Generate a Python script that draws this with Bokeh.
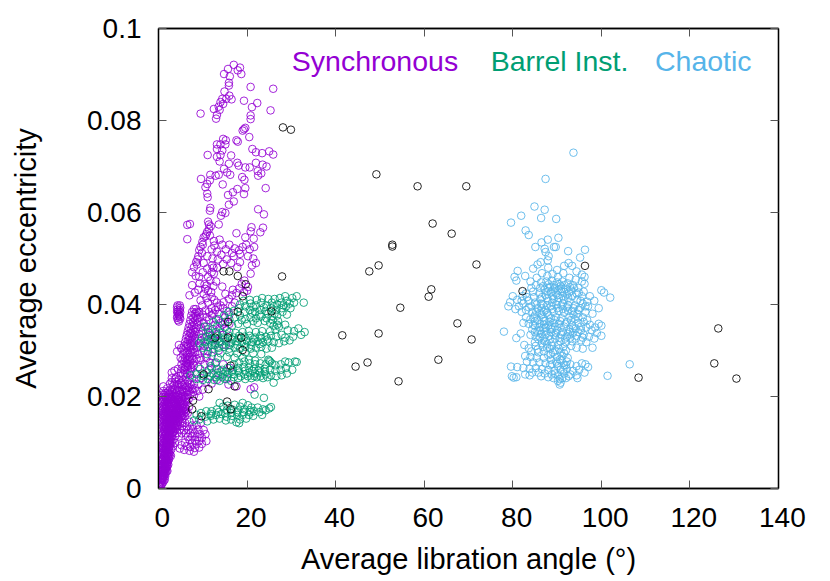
from bokeh.plotting import figure
from bokeh.models import LinearAxis, Range1d, FixedTicker, Label
from bokeh.embed import file_html
from bokeh.resources import INLINE

x_ticks = [0, 20, 40, 60, 80, 100, 120, 140]
y_ticks = [0, 0.02, 0.04, 0.06, 0.08, 0.1]
y_tick_labels = {0: "0", 0.02: "0.02", 0.04: "0.04", 0.06: "0.06", 0.08: "0.08", 0.1: "0.1"}
x_title = "Average libration angle (°)"
y_title = "Average eccentricity"
legend_names = ["Synchronous", "Barrel Inst.", "Chaotic"]

sync_points = [
(17.0,.0921),(15.7,.0912),(18.4,.0915),(17.9,.0909),(18.7,.0901),(14.8,.0901),(16.1,.0896),(15.9,.0882),(15.9,.0876),(20.8,.0873),(25.9,.0869),(14.9,.0863),(16,.0854),(16.5,.0846),(15.3,.0847),(14.4,.0847),(14,.0840),(14.6,.0836),(13.6,.0830),(13.8,.0823),(12.5,.0825),(19.3,.0843),(22.3,.0838),(21.1,.0829),(25.3,.0822),(9.5,.0815),(13.2,.0812),(13,.0804),(20.8,.0811),(20.8,.0803),(19.6,.0784),(19,.0778),(19.3,.0781),(17.6,.0757),(17.9,.0754),(20.5,.0764),(14.6,.0760),(15.2,.0757),(14,.0748),(15.1,.0748),(13.2,.0748),(13.2,.0738),(14.4,.0735),(21.2,.0738),(22,.0731),(23.4,.0729),(25,.0733),(25.9,.0726),(11.1,.0725),(14,.0725),(16.4,.0724),(13.2,.0721),(13.8,.0711),(15.9,.0706),(17.8,.0708),(18.1,.0702),(19.6,.0698),(20.6,.0698),(22,.0708),(23.5,.0704),(24.4,.0700),(14.8,.0695),(22.4,.0690),(23.2,.0685),(22.5,.0680),(15.5,.0687),(16.2,.0682),(13.6,.0682),(12.9,.0680),(11.7,.0682),(9.6,.0673),(18.9,.0677),(19.4,.0671),(11.6,.0670),(11,.0662),(10.6,.0655),(14.5,.0661),(19.6,.0653),(24.2,.0653),(17.8,.0651),(16.8,.0644),(19.3,.0640),(15.7,.0638),(11,.0641),(11.1,.0633),(17,.0624),(15.9,.0617),(11.7,.0610),(11.6,.0604),(22.5,.0607),(23.8,.0596),(14.4,.0601),(15.1,.0599),(14.1,.0593),(6.5,.0573),(7.1,.0575),(11.4,.0574),(13.6,.0574),(11.4,.0564),(21,.0568),(23.6,.0567),(20.8,.0559),(23,.0557),(17.6,.0555),(10.8,.0553),(6.5,.0542),(10.2,.0546),(19.6,.0546),(21.5,.0543),(13.8,.0541),(9.9,.0536),(12.5,.0538),(14.4,.0530),(16,.0530),(9.5,.0525),
(11.2,.0580),(11.8,.0570),(11.0,.0558),(11.6,.0550),(10.6,.0548),(10.0,.0530),(9.2,.0518),(9.8,.0512),(9.0,.0505),(8.8,.0498),(8.5,.0492),(12.6,.0528),(12.0,.0520),(13.2,.0515),(15.2,.0520),(16.6,.0512),(17.2,.0522),(18.2,.0518),(19.0,.0525),(19.8,.0530),(20.6,.0520),(21.6,.0525),(18.4,.0510),(17.0,.0505),(14.2,.0508),(12.2,.0500),(11.0,.0505),(13.4,.0498),(15.4,.0498),(20.2,.0505),(21.4,.0500),(8,.0481),(7.6,.047),(8.7,.0487),(10.2,.049),(9.3,.0446),(7,.0420),(12.1,.0485),(12.5,.0467),(11.7,.0452),(10.9,.0441),(10.6,.0434),(10.2,.0423),(9.5,.0409),(9.9,.0398),(10.6,.0387),(11.9,.0427),(14.4,.0439),(15.1,.0423),(15.9,.0412),(14.7,.0405),(14,.0398),(16.6,.042),(17.8,.0481),(21.1,.0485),(20.8,.0467),(19.3,.0427),(20,.043),(18.4,.0492),(16.4,.0490),(14.6,.0488),(13.2,.0480),(22.0,.0490),(9.2,.0460),(10.0,.0470),(11.0,.0478),(8.4,.0462),(7.6,.0442),(9.0,.0432),(8.2,.0426),(13.0,.0450),(12.4,.0440),(18.8,.0445),(19.4,.0452),(20.2,.0438),(18.2,.0435),(17.6,.0425),(16.8,.0432),
(4.3,.0398),(4.8,.0398),(4.2,.0394),(4.9,.0393),(4.3,.0389),(4.8,.0388),(4.2,.0384),(4.9,.0383),(4.4,.0380),(4.7,.0378),(4.3,.0375),(4.8,.0373),(4.2,.0371),(4.9,.0369),(4.4,.0366),(4.6,.0363),(4.5,.0386),(4.6,.0376),(8.0,.0390),(7.6,.0384),(8.2,.0380),(7.4,.0376),(7.9,.0372),(7.2,.0366),(7.8,.0362),(7.0,.0358),(7.6,.0354),(6.8,.0350),(7.3,.0346),(6.6,.0342),(7.1,.0338),(6.4,.0334),(6.9,.0330),(6.2,.0326),(6.7,.0322),(6.0,.0318),(6.5,.0314),(5.8,.0310),(6.3,.0306),(5.4,.0302),(6.0,.0298),(5.1,.0305),(4.6,.0312),(4.2,.0298),(5.6,.0292),(6.4,.0286),(5.0,.0284),(7.0,.0280),(5.8,.0276),(6.8,.0270),(5.2,.0270),(6.0,.0264),(7.4,.0262),(4.4,.0260),(3.6,.0256),(5.0,.0252),(6.4,.0250),(3.0,.0252),
(9.4,.0372),(9.0,.0362),(10.2,.0360),(9.6,.0350),(10.8,.0352),(11.4,.0366),(12.0,.0376),(12.8,.0388),(13.6,.0380),(14.6,.0392),(15.4,.0386),(13.0,.0368),(14.0,.0360),(15.0,.0372),(8.6,.0350),(8.2,.0340),(9.2,.0336),(10.0,.0342),(8.8,.0326),(8.0,.0322),(9.6,.0322),(7.8,.0310),(8.6,.0306),(9.4,.0310),(7.4,.0300),(8.2,.0296),(9.0,.0292),(10.2,.0300),(7.6,.0288),(8.6,.0282),(9.6,.0280),(7.2,.0276),(8.0,.0268),(9.0,.0264),(10.4,.0270),(11.6,.0274),(12.8,.0272),(14.6,.0270),(16.2,.0262),(17.6,.0222),(11.4,.0258),(13.4,.0252),(15.4,.0238),(15.8,.0226),(13.2,.0236),(12.0,.0228),(10.8,.0232),(9.6,.0240),(8.4,.0250),(7.6,.0240),(9.0,.0226),(8.0,.0228),(6.8,.0235),(10.0,.0215),(8.8,.0212),(7.6,.0216),(6.4,.0222),(9.2,.0200),(8.0,.0202),(20.8,.0216),(21.6,.0220),
(5.0,.0245),(4.0,.0242),(3.0,.0240),(3.8,.0232),(5.0,.0230),(6.0,.0228),(2.6,.0228),(1.1,.0222),(1.1,.0212),(2.0,.0218),(3.2,.0222),(4.4,.0220),(5.4,.0216),(6.4,.0210),(7.2,.0204),(2.0,.0208),(3.0,.0210),(4.0,.0208),(5.0,.0206),(6.0,.0200),(6.8,.0194),(0.8,.0204),(1.5,.0200),(2.4,.0202),(3.4,.0200),(4.4,.0198),(5.4,.0194),(6.4,.0188),(1.0,.0194),(1.9,.0192),(2.8,.0193),(3.8,.0190),(4.8,.0188),(5.8,.0184),(6.9,.0178),(0.7,.0186),(1.4,.0185),(2.3,.0184),(3.2,.0183),(4.2,.0180),(5.2,.0178),(6.2,.0173),(0.9,.0178),(1.8,.0176),(2.7,.0177),(3.6,.0174),(4.6,.0172),(5.6,.0168),(6.6,.0164),(0.8,.0169),(1.4,.0168),(2.2,.0168),(3.1,.0167),(4.0,.0165),(5.0,.0162),(6.0,.0158),(1.0,.0160),(1.8,.0160),(2.6,.0159),(3.5,.0157),(4.4,.0155),(5.4,.0152),(1.0,.0152),(1.5,.0150),(2.3,.0151),(3.0,.0150),(3.9,.0148),(4.9,.0145),(6.0,.0143),(7.0,.0145),(1.1,.0142),(1.9,.0142),(2.7,.0142),(3.5,.0140),(4.3,.0138),(5.4,.0136),(6.4,.0135),(7.6,.0137),(8.6,.0138),(9.6,.0143),(10.2,.0127),(1.0,.0134),(1.6,.0134),(2.4,.0133),(3.1,.0132),(3.9,.0130),(4.8,.0128),(5.8,.0127),(6.8,.0128),(7.8,.0129),(9.0,.0128),(1.2,.0126),(1.9,.0125),(2.7,.0125),(3.4,.0123),(4.2,.0121),(5.2,.0120),(6.2,.0120),(7.2,.0120),(8.2,.0120),(9.4,.0118),(10.6,.0118),(1.0,.0118),(1.6,.0117),(2.3,.0116),(3.0,.0115),(3.8,.0114),(4.6,.0113),(6.6,.0112),(7.6,.0113),(8.8,.0112),(9.8,.0110),
(1.3,.0110),(2.0,.0109),(2.7,.0108),(3.4,.0107),(7.0,.0105),(8.2,.0105),(9.2,.0104),(10.8,.0103),(0.9,.0104),(1.5,.0102),(2.3,.0101),(3.0,.0100),(3.7,.0099),(6.0,.0100),(7.6,.0098),(8.6,.0097),(9.8,.0097),(1.2,.0095),(1.9,.0094),(2.6,.0093),(3.3,.0092),(5.2,.0094),(6.4,.0092),(7.2,.0090),(8.2,.0088),(9.2,.0089),(0.9,.0088),(1.5,.0087),(2.2,.0086),(2.9,.0085),(4.8,.0087),(5.8,.0084),(7.0,.0082),(8.0,.0080),(1.1,.0081),(1.8,.0080),(2.5,.0079),(0.8,.0074),(1.4,.0073),(2.1,.0072),(2.8,.0071),(1.0,.0066),(1.7,.0065),(2.4,.0064),(0.7,.0060),(1.3,.0059),(2.0,.0058),(0.9,.0053),(1.6,.0052),(2.2,.0052),(0.6,.0047),(1.2,.0046),(1.8,.0045),(0.8,.0040),(1.4,.0039),(2.0,.0038),(0.5,.0034),(1.0,.0033),(1.6,.0032),(0.7,.0027),(1.2,.0026),(0.4,.0022),(0.9,.0020),(1.4,.0019),(0.5,.0015),(1.0,.0013),(0.2,.0010),(0.6,.0008),(0.1,.0006),(0.3,.0004),(0.5,.0003),
(1.2,.0203),(2.1,.0197),(3.1,.0196),(4.1,.0193),(5.1,.0191),(6.0,.0189),(1.6,.0189),(2.5,.0188),(3.5,.0186),(4.5,.0184),(5.5,.0181),(1.2,.0181),(2.1,.0180),(3.0,.0179),(4.0,.0177),(4.9,.0175),(5.9,.0171),(1.1,.0173),(1.6,.0172),(2.5,.0172),(3.4,.0170),(4.3,.0168),(5.3,.0165),(1.3,.0164),(2.0,.0164),(2.9,.0163),(3.8,.0161),(4.7,.0158),(1.2,.0156),(1.9,.0155),(2.7,.0155),(3.3,.0153),(4.2,.0151),(1.3,.0146),(2.2,.0146),(3.0,.0145),(3.9,.0143),(1.4,.0138),(2.0,.0138),(2.8,.0137),(3.6,.0135),(1.3,.0130),(2.1,.0129),(2.9,.0128),(1.5,.0122),(2.2,.0121),(3.0,.0120),(1.3,.0113),(2.0,.0113),(2.6,.0112),(1.6,.0106),(2.4,.0105),(1.2,.0099),(1.9,.0098),(2.7,.0097),(1.5,.0091),(2.3,.0090),(1.3,.0084),(2.0,.0083),(1.6,.0077),(2.3,.0076),(1.2,.0070),(2.0,.0069),(1.5,.0062),(2.2,.0061),(1.2,.0056),(1.9,.0055),(1.4,.0049),(2.0,.0048),(1.1,.0043),(1.7,.0042),(1.3,.0036),(0.8,.0030),(1.3,.0029),(1.0,.0023),
(3.8,.0238),(4.6,.0236),(5.6,.0236),(6.6,.0232),(7.2,.0226),(3.6,.0226),(4.6,.0226),(5.4,.0224),(8.2,.0218),(7.0,.0212),(5.9,.0209),(4.8,.0212),(3.7,.0215),(2.5,.0213),(6.2,.0268),(6.6,.0258),(7.0,.0250),(5.8,.0258),(5.4,.0262),(6.2,.0242),(7.2,.0254),(5.4,.0280),(6.2,.0274),(6.6,.0280),(6.0,.0284),(6.8,.0292),(7.2,.0296),(6.4,.0296),(7.0,.0306),(6.6,.0310),(7.2,.0316),(7.0,.0324),(7.6,.0330),(7.4,.0338),(7.8,.0344),(8.0,.0356),(8.3,.0366),(8.4,.0374),(8.6,.0384),
(10.4,.0310),(11.0,.0322),(11.6,.0334),(12.2,.0346),(12.8,.0356),(11.2,.0340),(10.6,.0330),(12.0,.0312),(12.6,.0324),(13.2,.0336),(13.8,.0348),(14.4,.0356),(15.0,.0362),(16.0,.0358),(13.8,.0320),(14.6,.0334),(15.4,.0344),(16.0,.0378),(16.6,.0396),(17.2,.0404),(9.4,.0284),(10.8,.0284),(12.0,.0288),(11.2,.0298),(13.6,.0300),(15.2,.0312),
(1.0,.0199),(1.7,.0195),(2.6,.0198),(3.6,.0195),(4.6,.0193),(5.6,.0190),(0.9,.0189),(1.7,.0182),(2.8,.0184),(3.8,.0182),(4.8,.0180),(6.0,.0177),(1.3,.0177),(2.3,.0174),(3.2,.0174),(4.2,.0173),(5.2,.0170),(6.2,.0167),(1.0,.0165),(1.7,.0167),(2.6,.0165),(3.6,.0163),(4.6,.0164),(5.6,.0160),(1.5,.0158),(2.3,.0158),(3.1,.0158),(4.0,.0156),(5.0,.0155),(1.2,.0149),(1.9,.0148),(2.6,.0148),(3.4,.0146),(4.4,.0145),(5.4,.0143),(1.5,.0141),(2.3,.0140),(3.2,.0139),(4.2,.0135),(1.7,.0131),(2.5,.0130),(3.4,.0128),(1.4,.0125),(2.4,.0123),(3.2,.0121),(1.7,.0119),(2.6,.0117),(1.5,.0115),(2.2,.0110),(2.9,.0112),(1.9,.0103),(2.7,.0103),(1.6,.0096),(2.3,.0096),(2.0,.0091),(1.6,.0085),(2.4,.0083),(1.4,.0078),(2.1,.0078),(1.6,.0070),(2.4,.0069),(1.8,.0061),(1.5,.0055),(2.1,.0056),(1.6,.0047),(1.2,.0040),(1.8,.0038),(0.9,.0038),(1.1,.0028),(0.7,.0021),
(5.2,.0226),(6.2,.0218),(4.2,.0226),(3.0,.0232),(7.0,.0220),(7.8,.0210),(6.6,.0204),(5.6,.0200),(4.6,.0202),(3.6,.0205),(2.6,.0206),(1.6,.0208),(5.2,.0198),(4.0,.0200),(6.2,.0196),(6.0,.0252),(5.6,.0248),(7.8,.0272),(7.2,.0268),(6.6,.0266),(6.4,.0272),(7.6,.0280),(7.0,.0286),(7.8,.0296),(8.0,.0304),(7.4,.0312),(8.0,.0316),(7.6,.0322),(8.2,.0328),(8.0,.0334),(8.4,.0346),(8.8,.0356),(8.8,.0370),(8.8,.0382),(8.4,.0390),(9.2,.0384),(10.0,.0378),(10.8,.0372),(11.4,.0384),(12.0,.0392),(12.4,.0380),(13.4,.0394),(13.2,.0404),(12.6,.0410),(12.0,.0416),(11.2,.0404),(10.8,.0414),(11.2,.0430),(10.4,.0444),(11.2,.0460),(12.0,.0470),(12.4,.0480),
(1.1,.0122),(1.8,.0121),(2.5,.0120),(1.2,.0108),(1.8,.0107),(2.5,.0107),(1.1,.0100),(1.7,.0099),(2.5,.0099),(1.0,.0092),(1.7,.0091),(2.5,.0091),(1.1,.0086),(1.8,.0086),(1.0,.0078),(1.9,.0075),(2.6,.0074),(1.2,.0072),(0.9,.0063),(1.4,.0068),(2.2,.0066),(1.1,.0062),(1.7,.0059),(1.0,.0050),(1.4,.0053),(1.9,.0050),(0.8,.0046),(1.0,.0041),(1.5,.0044),(0.7,.0036),(1.2,.0034),(1.5,.0036),(0.6,.0029),(1.0,.0028),(1.5,.0026),(0.6,.0023),(0.8,.0017),(1.2,.0017),(0.4,.0012),(0.8,.0010),
(3.0,.0214),(4.2,.0214),(5.4,.0211),(6.6,.0214),(2.2,.0205),(3.2,.0203),(4.3,.0203),(5.3,.0202),(1.3,.0192),(2.3,.0192),(3.3,.0191),(4.3,.0188),(5.2,.0185),(2.0,.0186),(3.0,.0187),(4.0,.0185),(5.0,.0183),(1.6,.0179),(2.5,.0178),(3.5,.0179),(4.5,.0176),(5.5,.0174),(2.0,.0170),(2.9,.0169),(3.9,.0169),(4.8,.0166),(5.8,.0163),(1.3,.0160),(2.2,.0161),(3.2,.0161),(4.2,.0159),(5.2,.0158),(1.7,.0152),(2.5,.0151),(3.6,.0150),(4.6,.0148),(1.7,.0144),(2.5,.0144),(3.3,.0142),(4.0,.0139),(1.2,.0137),(2.2,.0135),(3.0,.0134),(3.7,.0132),
]

barrel_points = [
(21.7,.0204),(23.8,.0197),(13.8,.0186),(25.4,.0177),(25.0,.0174),(19.0,.0186),(20.2,.0181),(18.4,.0178),(21.0,.0176),(22.4,.0176),(23.6,.0172),(24.2,.0170),(17.2,.0182),(15.6,.0180),(14.6,.0178),(19.4,.0172),(20.6,.0170),(21.6,.0168),(22.8,.0166),(18.0,.0170),(16.6,.0172),(15.4,.0170),(13.2,.0172),(12.0,.0168),(10.8,.0168),(9.6,.0164),(8.6,.0160),(8.0,.0148),(9.2,.0150),(10.6,.0156),(11.8,.0158),(13.0,.0160),(14.2,.0162),(15.4,.0156),(16.6,.0158),(17.8,.0160),(19.0,.0160),(20.4,.0160),(21.4,.0158),(11.0,.0146),(12.4,.0150),(13.8,.0152),(15.2,.0148),(16.4,.0150),(18.4,.0150),(19.8,.0152),(17.6,.0144),(18.2,.0142),
(7.2,.0246),(8.6,.0248),(9.8,.0250),(11.0,.0252),(12.2,.0250),(13.4,.0246),(14.6,.0248),(15.8,.0250),(17.0,.0248),(18.2,.0252),(19.4,.0248),(20.6,.0252),(21.8,.0250),(23.0,.0252),(24.2,.0248),(25.4,.0246),(26.6,.0244),(27.8,.0246),(29.0,.0250),(30.2,.0258),(8.6,.0238),(10.0,.0236),(11.2,.0238),(12.6,.0236),(13.8,.0234),(15.0,.0238),(16.4,.0234),(18.0,.0240),(19.6,.0238),(21.0,.0240),(22.2,.0242),(23.6,.0240),(26.0,.0230),(12.0,.0262),(13.2,.0260),(14.4,.0258),(15.6,.0262),(16.8,.0258),(18.0,.0262),(19.2,.0264),(20.4,.0262),(21.6,.0260),(22.8,.0262),(24.0,.0260),(25.2,.0258),(26.4,.0256),(27.6,.0258),(28.8,.0262),(17.0,.0270),(18.2,.0274),(19.4,.0276),(20.6,.0272),(21.8,.0270),(23.0,.0272),(24.2,.0270),(25.2,.0276),(25.6,.0272),(26.4,.0268),(27.6,.0270),(28.6,.0276),(29.4,.0274),(30.8,.0276),(31.2,.0275),(19.0,.0284),(20.4,.0280),(21.8,.0278),(24.8,.0280),(25.0,.0278),
(9.2,.0316),(10.4,.0318),(11.6,.0320),(12.8,.0316),(14.0,.0318),(15.2,.0320),(16.4,.0316),(17.6,.0320),(18.8,.0318),(20.0,.0320),(21.2,.0318),(22.4,.0320),(23.6,.0318),(24.8,.0320),(26.0,.0318),(27.2,.0316),(28.4,.0320),(29.6,.0322),(10.0,.0306),(11.2,.0308),(12.4,.0304),(13.6,.0306),(14.8,.0308),(16.0,.0304),(17.2,.0306),(18.4,.0304),(19.6,.0308),(20.8,.0304),(22.0,.0306),(23.2,.0308),(24.4,.0304),(25.6,.0306),(9.8,.0328),(11.0,.0330),(12.2,.0326),(13.4,.0332),(14.6,.0328),(15.8,.0332),(17.0,.0328),(18.2,.0332),(19.4,.0330),(20.6,.0332),(21.8,.0328),(23.0,.0332),(24.2,.0330),(25.4,.0332),(26.6,.0330),(27.8,.0334),(28.6,.0328),(30.4,.0330),(32.2,.0334),(33.0,.0340),(31.6,.0348),(30.6,.0342),(29.2,.0344),(26.4,.0346),(25.2,.0342),(23.4,.0342),(22.0,.0340),(20.4,.0342),(19.0,.0340),(17.4,.0338),(16.0,.0340),(14.4,.0338),(13.0,.0340),(11.6,.0338),(26.0,.0354),(27.2,.0352),(28.6,.0356),(25.8,.0366),(27.0,.0364),(23.2,.0292),(21.4,.0294),(19.6,.0296),(17.8,.0294),(16.0,.0296),(14.0,.0294),(12.2,.0296),(11.0,.0292),(13.4,.0284),(15.4,.0286),(17.2,.0284),
(12.4,.0362),(13.6,.0368),(14.8,.0376),(16.0,.0368),(17.2,.0372),(18.4,.0376),(19.6,.0368),(20.8,.0372),(22.0,.0370),(23.2,.0374),(24.4,.0370),(25.6,.0374),(26.8,.0376),(28.0,.0384),(29.0,.0378),(15.8,.0384),(17.0,.0386),(18.2,.0392),(19.4,.0384),(20.6,.0388),(21.8,.0384),(23.0,.0388),(24.2,.0386),(25.4,.0392),(26.6,.0388),(27.8,.0392),(28.8,.0396),(29.8,.0392),(30.6,.0404),(32.8,.0404),(18.4,.0400),(19.6,.0396),(20.8,.0402),(22.0,.0398),(23.2,.0404),(24.4,.0398),(25.6,.0404),(26.8,.0400),(27.8,.0404),(29.0,.0408),(30.2,.0414),(31.2,.0418),(27.4,.0414),(28.6,.0418),(26.2,.0412),(24.8,.0412),(23.4,.0414),(22.2,.0410),(20.6,.0410),(19.2,.0408),(26.8,.0356),(25.2,.0360),(22.4,.0360),(20.0,.0358),(18.0,.0358),(16.6,.0354),
(11.2,.0346),(10.4,.0352),(13.2,.0352),(15.0,.0350),(12.0,.0312),(13.0,.0274),(11.8,.0266),(9.4,.0260),
(21.2,.0382),(22.8,.0378),(24.8,.0380),(26.2,.0380),(21.4,.0394),(23.8,.0394),(26.0,.0396),(28.2,.0398),(29.6,.0402),(18.8,.0366),(21.4,.0364),(24.0,.0364),(11.8,.0326),(13.2,.0324),(15.0,.0326),(16.6,.0324),(18.0,.0326),(19.8,.0324),(21.4,.0324),(23.2,.0326),(24.6,.0324),(12.8,.0312),(14.4,.0312),(16.0,.0312),(17.8,.0312),(19.4,.0314),(21.0,.0312),(22.8,.0314),(10.2,.0244),(11.6,.0244),(13.0,.0242),(14.4,.0242),(15.6,.0242),(17.0,.0242),(18.6,.0244),(20.2,.0244),(21.6,.0244),(23.0,.0244),(24.6,.0242),(14.0,.0254),(15.2,.0254),(16.6,.0254),(18.0,.0256),(19.6,.0256),(21.2,.0256),(22.6,.0256),(24.0,.0254),(11.8,.0162),(13.6,.0166),(15.0,.0164),(16.4,.0164),(17.8,.0166),(19.2,.0166),(20.8,.0166),(23.4,.0160),
]

chaotic_points = [
(93.7,.0730),(87.4,.0673),(84.9,.0613),(87.2,.0606),(81.9,.0593),(86.4,.0588),(89.8,.0586),(79.6,.0578),(82.9,.0561),(83.6,.0551),(87.9,.0541),(90.3,.0545),(86.5,.0535),(85.1,.0525),(89.3,.0525),(89.7,.0525),(87.2,.0521),(87.4,.0514),(92.5,.0516),(96.3,.0519),(95.2,.0502),(88.1,.0505),(87.9,.0496),(86.3,.0492),(85.6,.0487),(81.1,.0473),(84.6,.0478),(88.0,.0480),(90.0,.0475),(91.6,.0484),(92.6,.0490),(93.4,.0484),(94.4,.0472),(95.6,.0465),(96.2,.0460),(80.4,.0460),(80.8,.0452),(82.8,.0462),(84.0,.0450),(85.4,.0458),(86.6,.0468),(87.8,.0462),(89.0,.0466),(90.2,.0460),(91.4,.0468),(92.8,.0458),(94.2,.0454),(95.6,.0450),(96.2,.0445),(100.0,.0431),(100.6,.0426),(102.0,.0415),
(80.0,.0418),(79.4,.0405),(79.0,.0396),(81.0,.0410),(82.2,.0418),(83.0,.0424),(84.2,.0436),(85.2,.0442),(86.4,.0448),(87.6,.0450),(88.8,.0452),(90.0,.0448),(91.2,.0450),(92.4,.0446),(93.6,.0442),(94.8,.0436),(96.0,.0428),(97.4,.0418),(98.4,.0408),(83.6,.0408),(84.8,.0416),(86.0,.0424),(87.2,.0432),(88.4,.0438),(89.6,.0436),(90.8,.0440),(92.0,.0434),(93.2,.0430),(94.4,.0424),(95.6,.0418),(96.8,.0406),(82.4,.0402),(83.6,.0394),(85.0,.0404),(86.2,.0412),(87.4,.0420),(88.6,.0426),(89.8,.0424),(91.0,.0428),(92.2,.0422),(93.4,.0418),(94.6,.0410),(95.8,.0402),(97.0,.0396),(80.6,.0390),(82.0,.0384),(84.4,.0384),(85.6,.0392),(86.8,.0400),(88.0,.0408),(89.2,.0412),(90.4,.0414),(91.6,.0410),(92.8,.0406),(94.0,.0398),(95.2,.0392),(96.4,.0384),(98.0,.0380),(99.4,.0392),
(85.0,.0376),(86.2,.0382),(87.4,.0388),(88.6,.0396),(89.8,.0400),(91.0,.0398),(92.2,.0394),(93.4,.0386),(94.6,.0380),(95.8,.0372),(84.0,.0368),(85.6,.0366),(86.8,.0372),(88.0,.0378),(89.2,.0384),(90.4,.0386),(91.6,.0382),(92.8,.0374),(94.0,.0368),(83.6,.0358),(85.0,.0354),(86.2,.0358),(87.4,.0364),(88.6,.0370),(89.8,.0372),(91.0,.0370),(92.2,.0362),(93.4,.0356),(94.8,.0360),(96.0,.0362),(97.4,.0356),(99.4,.0358),(100.0,.0354),(84.4,.0346),(85.6,.0342),(86.8,.0348),(88.0,.0354),(89.2,.0360),(90.4,.0358),(91.6,.0352),(92.8,.0346),(94.2,.0348),(95.4,.0352),(96.6,.0350),(97.8,.0344),(99.0,.0338),(100.0,.0332),(84.0,.0334),(85.2,.0330),(86.4,.0336),(87.6,.0342),(88.8,.0346),(90.0,.0344),(91.2,.0340),(92.4,.0336),(93.6,.0338),(94.8,.0340),(96.0,.0334),(97.2,.0330),(98.4,.0326),(85.8,.0324),(87.0,.0326),(88.2,.0332),(89.4,.0334),(90.6,.0328),(91.8,.0326),(93.0,.0328),(94.2,.0326),(95.4,.0322),(96.6,.0318),(78.0,.0341),(81.8,.0337),(80.8,.0327),(82.6,.0312),(83.6,.0305),(84.2,.0298),(86.6,.0316),(87.8,.0314),(89.0,.0318),(90.2,.0312),(91.4,.0308),(85.2,.0310),(88.4,.0304),(89.6,.0300),(90.8,.0296),(92.0,.0300),(93.2,.0310),(94.4,.0306),(95.8,.0304),(98.0,.0306),(85.8,.0296),(87.0,.0298),
(88.6,.0292),(90.0,.0286),(91.2,.0288),(92.4,.0284),(91.0,.0278),(92.2,.0276),(89.8,.0276),(88.6,.0280),(87.0,.0284),(85.4,.0284),(84.0,.0286),(82.8,.0288),(83.2,.0276),(84.6,.0274),(86.0,.0274),(87.4,.0272),(88.8,.0270),(90.2,.0266),(91.6,.0268),(93.0,.0270),(94.4,.0266),(95.6,.0272),(96.4,.0270),(97.0,.0264),(106.4,.0270),(79.6,.0265),(81.0,.0264),(82.4,.0262),(83.8,.0260),(85.2,.0262),(86.6,.0260),(88.0,.0258),(89.4,.0256),(90.8,.0258),(92.2,.0260),(93.6,.0256),(95.0,.0258),(96.2,.0252),(84.4,.0252),(85.8,.0252),(87.2,.0250),(88.8,.0248),(90.2,.0246),(91.6,.0250),(93.0,.0248),(94.4,.0246),(82.8,.0248),(83.8,.0246),(86.4,.0244),(89.2,.0240),(90.6,.0238),(92.0,.0240),(94.6,.0240),(79.8,.0244),(80.2,.0241),(80.8,.0242),(90.8,.0230),(90.6,.0226),(101.4,.0245),
(86.9,.0440),(88.1,.0444),(89.3,.0442),(90.5,.0444),(91.7,.0442),(92.9,.0438),(87.9,.0428),(89.1,.0430),(90.3,.0432),(91.5,.0428),(92.7,.0426),(86.6,.0416),(87.8,.0414),(89.0,.0418),(90.1,.0420),(91.3,.0418),(92.5,.0414),(85.4,.0400),(86.5,.0392),(87.7,.0398),(88.9,.0404),(90.1,.0406),(91.3,.0402),(92.5,.0398),(93.7,.0392),(85.3,.0384),(86.5,.0378),(87.7,.0382),(88.9,.0390),(90.1,.0392),(91.3,.0390),(92.5,.0386),(93.7,.0378),(85.0,.0364),(86.0,.0350),(87.1,.0356),(88.3,.0362),(89.5,.0366),(90.7,.0364),(91.9,.0358),(85.0,.0340),(86.2,.0344),(87.4,.0350),(88.6,.0350),(89.6,.0352),(90.8,.0350),(85.0,.0318),(86.2,.0328),(87.4,.0334),(88.6,.0340),(89.8,.0338),(91.0,.0334),(92.2,.0330),(87.2,.0320),(88.4,.0324),(89.6,.0326),(90.8,.0320),(92.0,.0318),
(84.6,.0428),(83.2,.0416),(82.0,.0408),(81.4,.0396),(83.0,.0388),(83.0,.0372),(82.4,.0360),(86.2,.0436),(88.0,.0436),(90.9,.0434),(93.8,.0436),(94.9,.0426),(95.3,.0408),(96.4,.0396),(94.8,.0388),(86.4,.0402),(84.2,.0396),(87.0,.0384),(84.8,.0372),(87.0,.0364),(84.6,.0356),(93.1,.0366),(94.8,.0372),(96.8,.0366),(98.6,.0350),(93.6,.0348),(92.9,.0340),(95.4,.0344),(94.4,.0332),(95.8,.0328),(93.4,.0320),(87.7,.0306),(86.8,.0308),(85.6,.0302),(88.8,.0310),(90.4,.0304),(89.1,.0296),(91.6,.0294),(88.0,.0290),(90.6,.0280),(88.4,.0268),(90.0,.0272),(92.0,.0268),(91.4,.0258),(89.6,.0250),(88.0,.0242),(90.2,.0234),(92.6,.0244),(91.2,.0240),
]

other_points = [
(28.1,.0785),(29.9,.0780),(49.2,.0683),(58.5,.0657),(69.5,.0657),(61.9,.0576),(66.2,.0554),(52.8,.0530),(52.8,.0526),(71.8,.0487),(49.7,.0485),(47.6,.0472),(61.6,.0433),(61,.0417),(54.6,.0393),(67.5,.0359),(49.7,.0337),(41.5,.0333),(70.7,.0324),(63.2,.0280),(47.2,.0274),(44.5,.0265),(54.2,.0233),(82.2,.0429),(96.3,.0484),(108.4,.0241),(126.4,.0348),(125.5,.0272),(130.5,.0239),(14.7,.0472),(16,.0472),(17.9,.0462),(27.9,.0461),(19.7,.0444),(19,.0418),(25.5,.0385),(17.9,.0384),(15.7,.0362),(12.8,.0328),(15.7,.0328),(18.7,.0328),(19,.0301),(16.3,.0267),(10.2,.0248),(17.2,.0222),(11.3,.0216),(7.8,.0191),(7.6,.0172),(15.5,.0189),(16.3,.0172),(9.7,.0157),
]

FONT = "Liberation Sans"
p = figure(width=830, height=581, frame_width=620, frame_height=460,
           x_range=Range1d(0, 140), y_range=Range1d(0, 0.1),
           output_backend="svg", toolbar_location=None,
           min_border_left=158, min_border_right=52, min_border_top=28, min_border_bottom=93,
           x_axis_location=None, y_axis_location=None)
p.grid.visible = False
p.outline_line_color = "black"
p.outline_line_width = 1.3
p.background_fill_color = "white"

def style_ticks(ax, ticks):
    ax.ticker = FixedTicker(ticks=ticks)
    ax.minor_tick_line_color = None
    ax.major_tick_in = 8
    ax.major_tick_out = 0
    ax.major_tick_line_color = "#555555"
    ax.major_tick_line_width = 1
    ax.axis_line_color = "black"
    ax.axis_line_width = 1.3
    ax.major_label_text_font = FONT
    ax.major_label_text_color = "black"

left = LinearAxis(axis_label=y_title)
style_ticks(left, y_ticks)
left.major_label_overrides = y_tick_labels
left.major_label_text_font_size = "28px"
left.major_label_standoff = 17
left.axis_label_text_font = FONT
left.axis_label_text_font_size = "29px"
left.axis_label_text_font_style = "normal"
left.axis_label_text_color = "black"
left.axis_label_standoff = 42
p.add_layout(left, "left")

# a leading no-break space moves each centred label right of its tick, as in the reference
bottom = LinearAxis(axis_label=x_title)
style_ticks(bottom, x_ticks)
bottom.major_label_overrides = {t: "\u00a0" + str(t) for t in x_ticks}
bottom.major_label_text_font_size = "28px"
bottom.major_label_standoff = 13
bottom.axis_label_text_font = FONT
bottom.axis_label_text_font_size = "29px"
bottom.axis_label_text_font_style = "normal"
bottom.axis_label_text_color = "black"
bottom.axis_label_standoff = 7
p.add_layout(bottom, "below")

for side in ("right", "above"):
    ax = LinearAxis()
    style_ticks(ax, y_ticks if side == "right" else x_ticks)
    ax.major_label_overrides = {t: "" for t in (y_ticks if side == "right" else x_ticks)}
    ax.major_label_standoff = 0
    p.add_layout(ax, side)

series = [(sync_points, "#9400d3"), (barrel_points, "#009e73"), (chaotic_points, "#56b4e9"), (other_points, "black")]
for pts, col in series:
    xs = [a for a, b in pts]
    ys = [b for a, b in pts]
    p.scatter(xs, ys, marker="circle", size=7.6, fill_color=None, line_color=col, line_width=1.0, line_alpha=0.85)
    p.scatter(xs, ys, marker="dot", size=3, line_color=col, line_alpha=0.35)

for name, xv, col in zip(legend_names, [30.1, 75.0, 112.1], ["#9400d3", "#009e73", "#56b4e9"]):
    p.add_layout(Label(x=xv, y=0.093, text=name, text_color=col, text_font=FONT,
                       text_font_size="28.5px", text_baseline="middle"))

open("out.html", "w").write(file_html(p, INLINE))
